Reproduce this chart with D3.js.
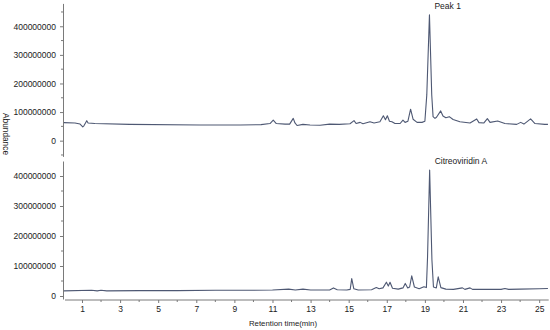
<!DOCTYPE html>
<html>
<head>
<meta charset="utf-8">
<script src="https://cdn.jsdelivr.net/npm/d3@7"></script>
<style>
  body { margin: 0; background: #fff; }
  text { font-family: "Liberation Sans", Arial, sans-serif; fill: #222; }
</style>
</head>
<body>
<svg id="chart" width="550" height="330"></svg>
<script>
// retention time (min) / abundance (millions)
var topTime = [0.05, 0.63, 0.9, 1.04, 1.1, 1.25, 1.32, 1.68, 3.5, 7.2, 9.3, 10.4, 10.87, 11.04, 11.2, 11.66, 11.9, 12.09, 12.18, 12.29,
  12.6, 12.97, 13.5, 14.0, 14.5, 15.07, 15.28, 15.39, 15.6, 15.75, 16.12, 16.33, 16.64, 16.82, 16.93, 17.03, 17.14, 17.27, 17.43, 17.7,
  17.85, 17.96, 18.11, 18.25, 18.38, 18.59, 18.85, 19.0, 19.1, 19.24, 19.36, 19.43, 19.53, 19.61, 19.83, 19.95, 20.1, 20.28, 20.48, 20.84,
  21.37, 21.72, 21.84, 22.1, 22.28, 22.42, 22.82, 23.2, 23.82, 24.03, 24.2, 24.55, 24.78, 25.3, 25.46];
var topAbund = [63, 62, 58, 48, 52, 70, 62, 60, 57, 55, 55, 56, 60, 72, 60, 58, 58, 78, 62, 53,
  57, 55, 54, 58, 57, 59, 70, 60, 64, 59, 66, 62, 66, 87, 73, 87, 68, 66, 60, 60,
  72, 64, 68, 110, 75, 64, 64, 68, 160, 440, 160, 84, 78, 82, 104, 86, 80, 84, 74, 66,
  62, 76, 63, 62, 77, 64, 69, 60, 57, 64, 58, 76, 60, 57, 57];

var botTime = [0.05, 1.5, 1.8, 2.0, 2.3, 4.0, 6.0, 8.0, 10.0, 11.0, 11.85, 12.2, 12.6, 13.0, 14.0, 14.2, 14.4, 14.9, 15.08, 15.16,
  15.27, 15.5, 16.2, 16.45, 16.6, 16.8, 16.98, 17.08, 17.17, 17.3, 17.6, 17.85, 17.97, 18.1, 18.2, 18.31, 18.45, 18.7, 18.95, 19.08,
  19.14, 19.25, 19.37, 19.45, 19.6, 19.7, 19.84, 20.1, 20.5, 20.97, 21.1, 21.37, 21.5, 22.0, 23.0, 23.2, 23.4, 24.0, 25.0, 25.46];
var botAbund = [17, 19, 17, 19, 17, 18, 18, 19, 19, 20, 23, 20, 23, 20, 20, 27, 21, 20, 22, 58,
  24, 20, 21, 28, 24, 27, 46, 33, 46, 26, 23, 27, 42, 27, 30, 67, 30, 24, 31, 28,
  130, 420, 120, 30, 27, 64, 28, 23, 22, 27, 22, 27, 22, 22, 22, 25, 22, 23, 24, 25];

var yTickVals = [0, 100000000, 200000000, 300000000, 400000000];
var xTickVals = [1, 3, 5, 7, 9, 11, 13, 15, 17, 19, 21, 23, 25];
var topLabel = "Peak 1";
var botLabel = "Citreoviridin A";

var svg = d3.select("#chart");
var lineColor = "#4e5873";
var axisColor = "#7a7a7a";

var x = d3.scaleLinear().domain([0.05, 25.5]).range([63.9, 548.7]);
var yTop = d3.scaleLinear().domain([-55e6, 480e6]).range([156.4, 3.4]);
var yBot = d3.scaleLinear().domain([-10e6, 450e6]).range([299, 161]);

function drawPanel(times, abund, y, label) {
  var pts = times.map(function (t, i) { return [t, abund[i] * 1e6]; });
  var line = d3.line()
    .x(function (d) { return x(d[0]); })
    .y(function (d) { return y(d[1]); });

  // y axis, minor ticks every 50M that fall inside the domain
  var minor = d3.range(-50e6, y.domain()[1], 50e6).filter(function (v) {
    return v % 100e6 != 0 && v >= y.domain()[0];
  });
  var g = svg.append("g").attr("transform", "translate(63,0)");
  g.call(d3.axisLeft(y).tickValues(yTickVals).tickSize(3).tickSizeOuter(0).tickPadding(4).tickFormat(d3.format("d")));
  minor.forEach(function (v) {
    g.append("line").attr("x1", -2).attr("x2", 0).attr("y1", y(v)).attr("y2", y(v)).attr("stroke", axisColor);
  });
  g.select(".domain").attr("stroke", axisColor);
  g.selectAll(".tick line").attr("stroke", axisColor);
  g.selectAll(".tick text").style("font-size", "8.5px").attr("fill", "#222");

  svg.append("path")
    .datum(pts)
    .attr("d", line)
    .attr("fill", "none")
    .attr("stroke", lineColor)
    .attr("stroke-width", 1.1)
    .attr("stroke-linejoin", "round");

  // label next to the big peak
  var peak = pts[d3.maxIndex(pts, function (d) { return d[1]; })];
  svg.append("text")
    .attr("x", x(peak[0]) + 5)
    .attr("y", y(peak[1]) - 6)
    .style("font-size", "8.5px")
    .text(label);
}

drawPanel(topTime, topAbund, yTop, topLabel);
drawPanel(botTime, botAbund, yBot, botLabel);

// x axis, under the bottom panel only
var gx = svg.append("g").attr("transform", "translate(0,300)");
gx.call(d3.axisBottom(x).tickValues(xTickVals).tickSize(3).tickSizeOuter(0).tickPadding(3));
d3.range(2, 26, 2).forEach(function (t) {
  gx.append("line").attr("x1", x(t)).attr("x2", x(t)).attr("y1", 0).attr("y2", 2).attr("stroke", axisColor);
});
gx.select(".domain").attr("stroke", axisColor).attr("d", "M65,0H548.7");
gx.selectAll(".tick line").attr("stroke", axisColor);
gx.selectAll(".tick text").style("font-size", "8.5px").attr("fill", "#222");

svg.append("text")
  .attr("x", 283)
  .attr("y", 326)
  .attr("text-anchor", "middle")
  .style("font-size", "7.8px")
  .text("Retention time(min)");

svg.append("text")
  .attr("transform", "translate(3,134) rotate(90)")
  .attr("text-anchor", "middle")
  .style("font-size", "8.3px")
  .text("Abundance");
</script>
</body>
</html>
